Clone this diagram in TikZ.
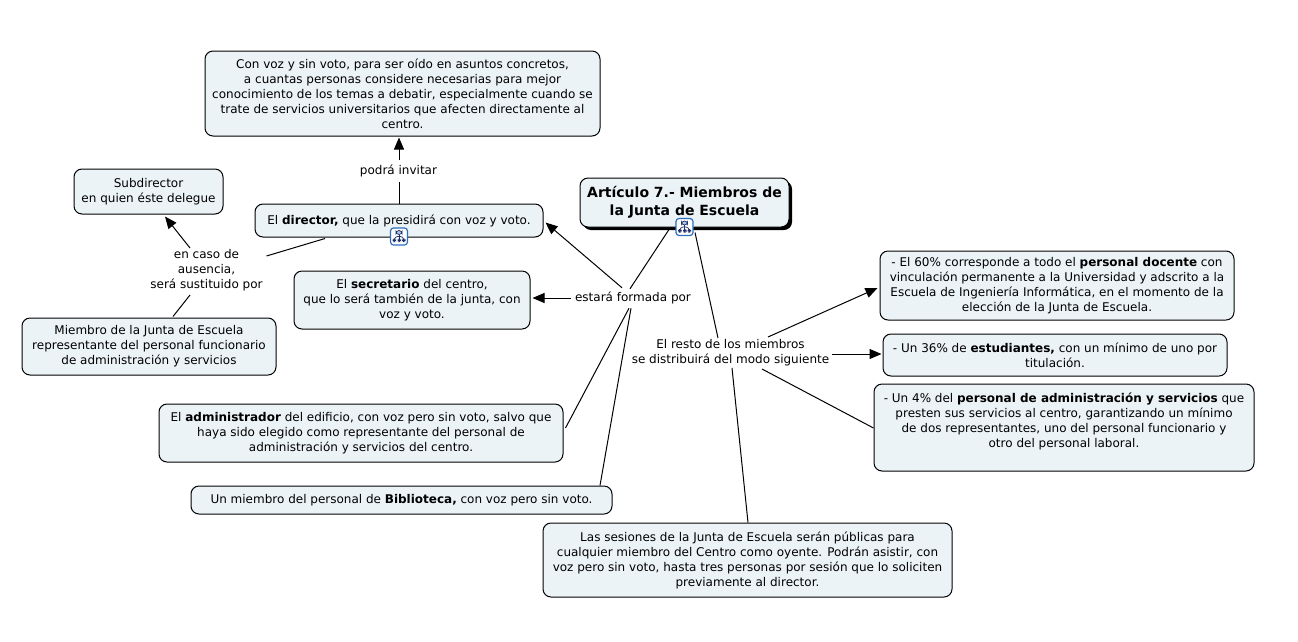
\documentclass[tikz,border=0pt]{standalone}
\usepackage{fontspec}
\setmainfont{DejaVu Sans}
\usetikzlibrary{arrows.meta,shadows}
\definecolor{boxfill}{HTML}{EBF3F6}
\definecolor{iconblue}{HTML}{2C6DC0}
\definecolor{icondark}{HTML}{1F2F6B}
\tikzset{
	conbox/.style={draw=black,line width=1pt,rounded corners=8pt,fill=boxfill,align=center,inner sep=0pt,font=\fontsize{12}{15}\selectfont},
	linkword/.style={align=center,inner sep=0pt,font=\fontsize{12}{15}\selectfont},
	link/.style={line width=1pt},
	linkarrow/.style={line width=1pt,-{Triangle[length=12pt,width=10pt]}},
	linkicon/.style={draw=iconblue,line width=1.2pt,rounded corners=3pt,fill=white,minimum size=17pt,inner sep=0pt,
		path picture={
			\draw[icondark,line width=0.7pt] ([shift={(0,-2)}]path picture bounding box.center) -- ++(0,4);
			\draw[icondark,line width=0.7pt] ([shift={(-4.5,2)}]path picture bounding box.center) -- ++(0,-2) -- ++(9,0) -- ++(0,2);
			\draw[icondark,fill=iconblue!40,line width=0.7pt] ([shift={(-3,-6)}]path picture bounding box.center) rectangle ++(6,4);
			\foreach \iconx in {-6.5,-1.5,3} {
				\fill[icondark] ([shift={(\iconx,2)}]path picture bounding box.center) rectangle ++(3.5,3.5);
			}
		}},
}
\begin{document}
\begin{tikzpicture}[x=1pt,y=-1pt]
	\useasboundingbox (0,0) rectangle (1298,641);
	% boxes
	\node[conbox,minimum width=395pt,minimum height=85pt] (invitados) at (402.5,93.5) {Con voz y sin voto, para ser oído en asuntos concretos,\\a cuantas personas considere necesarias para mejor\\conocimiento de los temas a debatir, especialmente cuando se\\trate de servicios universitarios que afecten directamente al\\centro.};
	\node[conbox,minimum width=149pt,minimum height=45pt] (subdirector) at (148.5,191.5) {Subdirector\\en quien éste delegue};
	\node[conbox,minimum width=288pt,minimum height=33pt] (director) at (399,220.5) {El \textbf{director,} que la presidirá con voz y voto.};
	\node[conbox,minimum width=209pt,minimum height=49pt,drop shadow={shadow xshift=3pt,shadow yshift=-3pt,fill=black,opacity=1},font=\fontsize{14}{18}\selectfont\bfseries] (titulo) at (684.5,202.5) {Artículo 7.- Miembros de\\la Junta de Escuela};
	\node[conbox,minimum width=236pt,minimum height=58pt] (secretario) at (412,300) {El \textbf{secretario} del centro,\\que lo será también de la junta, con\\voz y voto.};
	\node[conbox,minimum width=254pt,minimum height=57pt] (miembro) at (149,346.5) {Miembro de la Junta de Escuela\\representante del personal funcionario\\de administración y servicios};
	\node[conbox,minimum width=404pt,minimum height=58pt] (administrador) at (361,433) {El \textbf{administrador} del edificio, con voz pero sin voto, salvo que\\haya sido elegido como representante del personal de\\administración y servicios del centro.};
	\node[conbox,minimum width=421pt,minimum height=28pt] (biblioteca) at (401.5,500) {Un miembro del personal de \textbf{Biblioteca,} con voz pero sin voto.};
	\node[conbox,minimum width=409pt,minimum height=74pt] (sesiones) at (747.5,560) {Las sesiones de la Junta de Escuela serán públicas para\\cualquier miembro del Centro como oyente. Podrán asistir, con\\voz pero sin voto, hasta tres personas por sesión que lo soliciten\\previamente al director.};
	\node[conbox,minimum width=354pt,minimum height=69pt] (docente) at (1057,285.5) {- El 60\% corresponde a todo el \textbf{personal docente} con\\vinculación permanente a la Universidad y adscrito a la\\Escuela de Ingeniería Informática, en el momento de la\\elección de la Junta de Escuela.};
	\node[conbox,minimum width=344pt,minimum height=42pt] (estudiantes) at (1055,355) {- Un 36\% de \textbf{estudiantes,} con un mínimo de uno por\\titulación.};
	\node[conbox,minimum width=380pt,minimum height=87pt] (pas) at (1064,427.5) {- Un 4\% del \textbf{personal de administración y servicios} que\\presten sus servicios al centro, garantizando un mínimo\\de dos representantes, uno del personal funcionario y\\otro del personal laboral.\\\mbox{}};
	% linking words
	\node[linkword] (invitar) at (398.5,170.5) {podrá invitar};
	\node[linkword] (ausencia) at (206.5,270.5) {en caso de\\ausencia,\\será sustituido por};
	\node[linkword] (formada) at (633,297.5) {estará formada por};
	\node[linkword] (resto) at (730.5,352.5) {El resto de los miembros\\se distribuirá del modo siguiente};
	% connectors
	\draw[link] (director.north) -- ([xshift=0.5pt,yshift=-5.5pt]invitar.south);
	\draw[linkarrow] ([xshift=0.5pt,yshift=4.5pt]invitar.north) -- ([xshift=-3.5pt,yshift=-1pt]invitados.south);
	\draw[link] ([xshift=-74pt,yshift=-1pt]director.south) -- ([xshift=60pt,yshift=-6.5pt]ausencia.north);
	\draw[linkarrow] ([xshift=-16.5pt,yshift=1.5pt]ausencia.north) -- ([xshift=16.5pt,yshift=-2pt]subdirector.south);
	\draw[link] ([xshift=24pt,yshift=1pt]miembro.north) -- ([xshift=-16.5pt,yshift=-3.5pt]ausencia.south);
	\draw[link] ([xshift=-15.5pt,yshift=-2pt]titulo.south) -- ([xshift=-3pt,yshift=2.5pt]formada.north);
	\draw[linkarrow] ([xshift=-11pt,yshift=3.5pt]formada.north) -- ([xshift=2pt,yshift=15pt]director.south east);
	\draw[linkarrow] ([xshift=-3.5pt,yshift=-0.5pt]formada.west) -- ([xshift=2pt,yshift=2pt]secretario.east);
	\draw[link] ([xshift=-4pt,yshift=-4.5pt]formada.south) -- ([xshift=2pt,yshift=5pt]administrador.east);
	\draw[link] ([xshift=-2pt,yshift=-4.5pt]formada.south) -- ([xshift=198.5pt]biblioteca.north);
	\draw[link] ([xshift=10.5pt,yshift=-5pt]titulo.south) -- ([xshift=-12.5pt,yshift=1pt]resto.north);
	\draw[linkarrow] ([xshift=37.5pt,yshift=2pt]resto.north) -- ([xshift=-2pt,yshift=-2.5pt]docente.west);
	\draw[linkarrow] ([xshift=3pt,yshift=-1.5pt]resto.east) -- ([xshift=-1pt,yshift=1pt]estudiantes.west);
	\draw[link] ([xshift=31.5pt,yshift=-3pt]resto.south) -- ([yshift=-0.5pt]pas.west);
	\draw[link] ([xshift=1.5pt,yshift=-2pt]resto.south) -- ([xshift=0.5pt]sesiones.north);
	% icons
	\node[linkicon] (iconotitulo) at (684.5,227) {};
	\node[linkicon] (iconodirector) at (399,236.5) {};
\end{tikzpicture}
\end{document}
